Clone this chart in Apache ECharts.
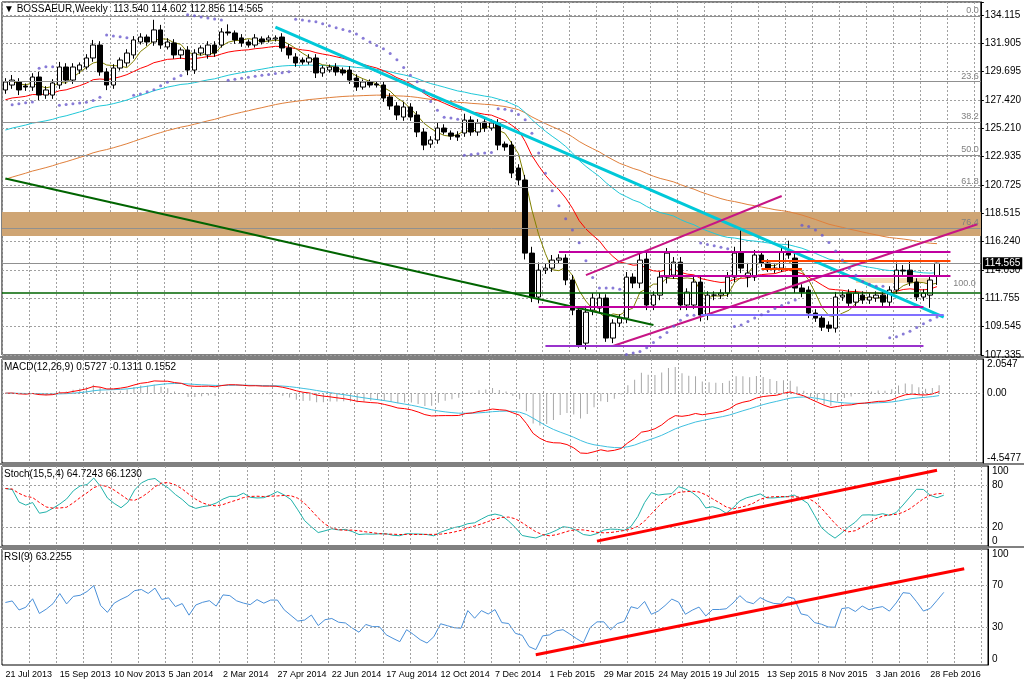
<!DOCTYPE html>
<html><head><meta charset="utf-8">
<script src="https://cdn.jsdelivr.net/npm/echarts@6/dist/echarts.min.js"></script>
<style>html,body{margin:0;padding:0;background:#fff}#c{width:1024px;height:683px}</style>
</head><body><div id="c"></div>
<script>
const startDate = '2013-07-21';
const totalSlots = 145;
const lastLabelIndex = 136;
const opens = [128.21,128.60,128.84,128.52,128.44,129.23,127.81,127.81,128.60,130.02,128.99,129.78,130.02,130.73,131.75,129.63,128.60,129.94,130.34,130.97,131.99,132.38,131.99,132.94,131.60,131.91,130.97,131.36,129.78,131.12,130.97,131.75,131.75,132.78,132.70,132.31,131.99,131.75,132.23,132.15,132.23,132.38,131.52,130.81,130.57,130.41,130.73,129.55,129.78,130.02,
129.78,129.78,129.15,128.44,128.84,128.68,128.60,127.66,126.95,126.08,126.87,126.24,124.90,123.95,124.27,125.21,124.82,124.66,124.82,125.84,124.90,125.69,125.21,125.61,123.95,123.87,122.06,121.12,115.36,111.90,114.02,114.18,114.81,114.97,113.24,110.87,108.27,110.87,111.03,111.82,108.67,109.85,110.24,113.47,113.00,114.89,111.27,112.05,113.47,113.63,114.65,111.27,111.27,113.08,110.48,112.05,112.05,112.21,113.47,115.36,113.47,113.47,115.21,114.58,114.18,114.18,115.44,114.97,112.61,112.45,110.64,110.24,109.69,109.45,111.90,112.21,111.50,112.05,111.66,111.82,112.05,111.50,112.45,114.02,114.02,113.08,111.90,112.05,113.54];
const closes = [128.84,128.99,128.21,128.44,129.23,127.81,128.21,128.76,130.02,128.99,130.02,130.18,130.73,131.75,129.63,128.60,129.94,130.57,131.12,132.15,132.38,131.99,132.94,131.75,131.99,130.97,131.36,129.78,131.12,131.52,131.75,131.12,132.78,132.70,132.15,131.91,131.75,132.31,131.99,132.31,132.31,131.52,130.97,130.34,130.41,130.73,129.55,129.94,130.02,129.63,
129.55,128.99,128.44,128.84,128.60,128.60,127.58,126.95,126.24,126.87,126.08,124.90,123.87,124.27,125.21,124.90,124.58,124.50,125.84,124.90,125.61,125.21,125.61,123.87,123.72,121.67,121.12,115.36,111.90,114.02,114.18,114.81,114.97,113.24,110.87,108.11,110.71,111.82,111.82,108.67,109.85,110.24,113.47,113.00,114.81,111.27,112.05,113.47,115.36,114.65,111.27,112.29,113.08,110.48,112.05,112.05,112.21,113.47,115.36,114.18,113.79,115.21,114.58,114.18,114.10,115.44,115.21,112.61,112.29,110.64,110.24,109.53,109.45,111.90,112.05,111.42,112.21,111.66,111.90,112.05,111.50,112.45,114.02,113.95,113.08,111.90,112.21,113.24,114.565];
const wickUp = [.3,.4,.3,.2,.3,.4,.3,.3,.4,.3, .3,.2,.3,.4,.3,.3,.3,.2,.3,.3, .3,.2,.8,.4,.3,.3,.2,.3,.3,.2, .3,.3,.3,.6,.2,.3,.2,.3,.2,.2, .2,.3,.3,.3,.2,.3,.3,.2,.2,.3, .2,.3,.3,.2,.2,.2,.3,.3,.3,.4, .3,.3,.3,.3,.4,.3,.2,.3,.5,.3, .3,.3,.3,.3,.2,.3,.3,.4,.5,.6, .4,.4,.3,.3,.4,.3,.5,.4,.4,.3, .3,.3,.4,.3,.5,.5,.3,.4,.4,.4, .4,.3,.4,.4,.3,.3,.3,.4,.5,1.8, .8,.4,.3,.3,.3,.4,.9,.4,.3,.3, .3,.3,.3,.4,.3,.3,.3,.3,.3,.3, .3,.3,.6,.4,.7,.3,.3,.4,.04];
const wickDn = [.3,.3,.4,.3,.3,.4,.3,.3,.3,.3, .3,.3,.2,.3,.3,.4,.3,.2,.3,.3, .2,.3,.3,.3,.2,.3,.3,.4,.3,.2, .3,.3,.2,.2,.3,.3,.2,.2,.2,.2, .2,.3,.3,.3,.2,.2,.4,.3,.2,.3, .2,.3,.3,.2,.2,.2,.3,.3,.4,.3, .3,.4,.4,.3,.3,.2,.3,.3,.3,.3, .3,.3,.2,.4,.3,.4,.4,.5,.4,.5, .3,.3,.3,.4,.4,.2,.5,.4,.4,.3, .4,.3,.4,.4,.4,.4,.4,.4,.5,.3, .4,.4,.3,.5,.4,.4,.3,.3,.4,.4, .8,.3,.3,.3,.3,.3,.3,.4,.4,.4, .3,.3,.3,.35,.3,.3,.3,.3,.3,.3, .3,.3,.3,.3,.3,.3,.3,1.0,.684];
const priceTicks = ['107.335','109.545','111.755','114.030','116.240','118.515','120.725','122.935','125.210','127.420','129.695','131.905','134.115'];
const fibLevels = [[134.0,'0.0'],[128.86,'23.6'],[125.67,'38.2'],[123.10,'50.0'],[120.53,'61.8'],[117.34,'76.4'],[107.06,'123.6']];
const fib100 = 112.2;
const zoneBand = [116.7,118.6];
const smallBand = [[126,113.0],[137,113.4]];
const maSeeds = {red:127.3, cyan:124.9, orange:121.0};
const rsiSeed = {gain:0.35, loss:0.30};
const lines = {
  cyanTrend:[[40,133.17],[139,110.32]],
  greenTrend:[[0,121.24],[96,109.7]],
  chanUpper:[[86,113.63],[115,119.86]],
  chanLower:[[90,108.04],[144,117.63]],
  mag1:[[82,115.44],[140,115.44]],
  mag2:[[97,113.55],[140,113.55]],
  mag3:[[79,111.11],[136,111.11]],
  violet:[[80,108.1],[136,108.1]],
  slate:[[103,110.48],[139,110.48]],
  orange1:[[112,114.73],[140,114.73]],
  orange2:[[112,114.10],[118,114.10]]
};
const stochTrend = [[87,0],[137,102]];
const rsiTrend = [[78,4],[141,86]];
const lastPrice = 114.565;

const N = closes.length;
const highs = closes.map((c,i)=>+(Math.max(c,opens[i])+wickUp[i]).toFixed(3));
const lows = closes.map((c,i)=>+(Math.min(c,opens[i])-wickDn[i]).toFixed(3));
const months=['Jan','Feb','Mar','Apr','May','Jun','Jul','Aug','Sep','Oct','Nov','Dec'];
const cats=[]; {let d=new Date(startDate+'T00:00:00Z'); for(let i=0;i<totalSlots;i++){cats.push(d.getUTCDate()+' '+months[d.getUTCMonth()]+' '+d.getUTCFullYear()); d=new Date(d.getTime()+7*864e5);} }
function ema(a,n,seed){const k=2/(n+1);const r=[];let v=seed;for(let i=0;i<a.length;i++){v=v+k*(a[i]-v);r.push(+v.toFixed(4));}return r;}
function sma(a,n){return a.map((_,i)=>{const s=a.slice(Math.max(0,i-n+1),i+1);return +(s.reduce((x,y)=>x+y,0)/s.length).toFixed(4);});}
const maOlive=sma(closes,5), maRed=ema(closes,21,maSeeds.red), maCyan=ema(closes,50,maSeeds.cyan), maOrange=ema(closes,89,maSeeds.orange);
const sar=[];{let up=true,af=0.02,ep=highs[0],s=lows[0]-0.5;sar.push(null);for(let i=1;i<N;i++){s=s+af*(ep-s);if(up){s=Math.min(s,lows[i-1],lows[Math.max(0,i-2)]);if(lows[i]<s){up=false;s=ep;ep=lows[i];af=0.02;}else if(highs[i]>ep){ep=highs[i];af=Math.min(af+0.02,0.2);}}else{s=Math.max(s,highs[i-1],highs[Math.max(0,i-2)]);if(highs[i]>s){up=true;s=ep;ep=highs[i];af=0.02;}else if(lows[i]<ep){ep=lows[i];af=Math.min(af+0.02,0.2);}}sar.push(+(up?s-0.4:s+0.4).toFixed(3));}}
const e12=ema(closes,12,closes[0]),e26=ema(closes,26,closes[0]);
const macd=e12.map((v,i)=>+(v-e26[i]).toFixed(4));
const sig=ema(macd,9,0);
const hist=macd.map((v,i)=>+((v-sig[i])*2).toFixed(4));
const K=[],D=[];{const num=[],den=[];for(let i=0;i<N;i++){const lo=Math.min(...lows.slice(Math.max(0,i-14),i+1)),hi=Math.max(...highs.slice(Math.max(0,i-14),i+1));num.push(closes[i]-lo);den.push(hi-lo);}
for(let i=0;i<N;i++){let a=0,b=0;for(let j=Math.max(0,i-3);j<=i;j++){a+=num[j];b+=den[j];}K.push(+(b?100*a/b:50).toFixed(2));}
sma(K,5).forEach(v=>D.push(v));}
const rsi=[];{let ag=rsiSeed.gain,al=rsiSeed.loss;for(let i=0;i<N;i++){const ch=i?closes[i]-closes[i-1]:0;const g=Math.max(ch,0),l=Math.max(-ch,0);ag=(ag*8+g)/9;al=(al*8+l)/9;rsi.push(+(100-100/(1+ag/al)).toFixed(2));}}

const candle=closes.map((c,i)=>[opens[i],c,lows[i],highs[i]]);
const F='Liberation Sans';
function seg(p,color,width){return [{coord:p[0],lineStyle:{color,width,type:'solid'}},{coord:p[1]}];}
const grids=[{left:2,right:36,top:2,bottom:328},{left:2,right:36,top:359,bottom:220},{left:2,right:36,top:466,bottom:137},{left:2,right:36,top:549,bottom:18}];
const xAxes=grids.map((g,k)=>({type:'category',gridIndex:k,data:cats,boundaryGap:true,axisLine:{show:false},axisTick:{show:false},
  axisLabel:{show:k===3,interval:(i)=>i%8===0&&i<=lastLabelIndex,align:'left',margin:5,color:'#000',fontFamily:F,fontSize:9},
  splitLine:{show:true,interval:(i)=>i%4===0,lineStyle:{color:'#a0a0a0',type:[2,2],width:1}}}));
const axisLbl={color:'#000',fontFamily:F,fontSize:10,margin:4};
const yAxes=[
 {type:'value',gridIndex:0,position:'right',min:107.335,max:135.14,interval:2.2317,axisLine:{show:true,lineStyle:{color:'#000'}},axisTick:{show:true,length:3,lineStyle:{color:'#000'}},
  axisLabel:Object.assign({},axisLbl,{formatter:v=>{const i=Math.round((v-107.335)/2.2317);return (v<134.3&&Math.abs(v-(107.335+i*2.2317))<0.01)?priceTicks[i]:'';}}),
  splitLine:{show:true,lineStyle:{color:'#a0a0a0',type:[2,2]}}},
 {type:'value',gridIndex:1,position:'right',min:-4.899,max:2.405,axisLine:{show:true,lineStyle:{color:'#000'}},axisTick:{show:false},splitLine:{show:false},axisLabel:Object.assign({},axisLbl,{customValues:[2.0547,0,-4.5477],formatter:v=>v===0?'0.00':String(v)})},
 {type:'value',gridIndex:2,position:'right',min:-7,max:108,axisLine:{show:true,lineStyle:{color:'#000'}},axisTick:{show:false},splitLine:{show:false},axisLabel:Object.assign({},axisLbl,{customValues:[0,20,80,100]})},
 {type:'value',gridIndex:3,position:'right',min:-5.7,max:104.8,axisLine:{show:true,lineStyle:{color:'#000'}},axisTick:{show:false},splitLine:{show:false},axisLabel:Object.assign({},axisLbl,{customValues:[0,30,70,100]})}
];
const fibML=fibLevels.map(f=>({yAxis:f[0],lineStyle:{color:'#909090',type:'solid',width:1},label:{show:true,position:'insideEndTop',formatter:f[1],color:'#808080',fontSize:9,fontFamily:F,distance:[2,1]}}));
fibML.push({yAxis:fib100,lineStyle:{color:'#006400',type:'solid',width:1.5},label:{show:true,position:'insideEndTop',formatter:'100.0',color:'#808080',fontSize:9,fontFamily:F}});
fibML.push({yAxis:lastPrice,lineStyle:{color:'#909090',type:'solid',width:1},label:{show:true,position:'end',formatter:'114.565',color:'#fff',backgroundColor:'#000',padding:[1,2],fontSize:10,fontFamily:F,distance:2}});
const L=lines;
const trendML=[seg(L.greenTrend,'#006400',2),seg(L.cyanTrend,'#00c8d8',3),seg(L.chanUpper,'#c71585',2),seg(L.chanLower,'#c71585',2),
 seg(L.mag1,'#c000a0',2),seg(L.mag2,'#c000a0',2),seg(L.mag3,'#c000a0',2),seg(L.violet,'#9932cc',2),seg(L.slate,'#8070ff',2),seg(L.orange1,'#ff4500',2),seg(L.orange2,'#ff4500',2)];
const lineS=(data,color,w,xi,extra)=>Object.assign({type:'line',data,xAxisIndex:xi,yAxisIndex:xi,symbol:'none',silent:true,lineStyle:{color,width:w},z:3},extra||{});
const tf='10px Liberation Sans';
const option={animation:false,backgroundColor:'#fff',grid:grids.map(g=>Object.assign({show:true,borderColor:'#000',borderWidth:1},g)),
 xAxis:xAxes,yAxis:yAxes,
 graphic:[
  {type:'text',left:4,top:4,style:{text:'▼ BOSSAEUR,Weekly  113.540 114.602 112.856 114.565',fill:'#000',font:tf}},
  {type:'text',left:4,top:362,style:{text:'MACD(12,26,9) 0.5727 -0.1311 0.1552',fill:'#000',font:tf}},
  {type:'text',left:4,top:469,style:{text:'Stoch(15,5,4) 64.7243 66.1230',fill:'#000',font:tf}},
  {type:'text',left:4,top:552,style:{text:'RSI(9) 63.2255',fill:'#000',font:tf}},
  {type:'rect',shape:{x:0,y:356,width:1024,height:2},style:{fill:'#808080'}},
  {type:'rect',shape:{x:0,y:463,width:1024,height:2},style:{fill:'#808080'}},
  {type:'rect',shape:{x:0,y:546,width:1024,height:2},style:{fill:'#808080'}}
 ],
 series:[
  {type:'line',data:[],xAxisIndex:0,yAxisIndex:0,silent:true,z:1,
   markArea:{silent:true,itemStyle:{color:'#cfa574'},data:[[{yAxis:zoneBand[0]},{yAxis:zoneBand[1]}],[{coord:smallBand[0],itemStyle:{color:'#f8dcb4'}},{coord:smallBand[1]}]]},
   markLine:{silent:true,symbol:'none',data:fibML}},
  lineS(maOrange,'#e0803c',1,0),lineS(maCyan,'#20c8d8',1,0),lineS(maRed,'#ff0000',1,0),lineS(maOlive,'#808000',1,0),
  {type:'candlestick',data:candle,xAxisIndex:0,yAxisIndex:0,barWidth:5,z:4,silent:true,
   itemStyle:{color:'#ffffff',color0:'#000000',borderColor:'#000000',borderColor0:'#000000',borderWidth:1},
   markLine:{silent:true,symbol:'none',data:trendML}},
  {type:'scatter',data:sar,xAxisIndex:0,yAxisIndex:0,symbolSize:3,itemStyle:{color:'#6a5acd'},z:5,silent:true},
  {type:'bar',data:hist,xAxisIndex:1,yAxisIndex:1,barWidth:1,itemStyle:{color:'#a8a8a8'},silent:true,
   markLine:{silent:true,symbol:'none',label:{show:false},data:[{yAxis:0,lineStyle:{color:'#a0a0a0',type:[2,2],width:1}}]}},
  lineS(sig,'#40c0e0',1,1),lineS(macd,'#ff0000',1,1),
  lineS(K,'#20b2aa',1,2,{markLine:{silent:true,symbol:'none',label:{show:false},data:[{yAxis:20,lineStyle:{color:'#a0a0a0',type:[2,2],width:1}},{yAxis:80,lineStyle:{color:'#a0a0a0',type:[2,2],width:1}},seg(stochTrend,'#ff0000',3)]}}),
  lineS(D,'#ff0000',1,2,{lineStyle:{color:'#ff0000',width:1,type:[3,2]}}),
  lineS(rsi,'#4a90d9',1,3,{markLine:{silent:true,symbol:'none',label:{show:false},data:[{yAxis:30,lineStyle:{color:'#a0a0a0',type:[2,2],width:1}},{yAxis:70,lineStyle:{color:'#a0a0a0',type:[2,2],width:1}},seg(rsiTrend,'#ff0000',3)]}})
 ]};
echarts.init(document.getElementById('c')).setOption(option);
</script></body></html>
